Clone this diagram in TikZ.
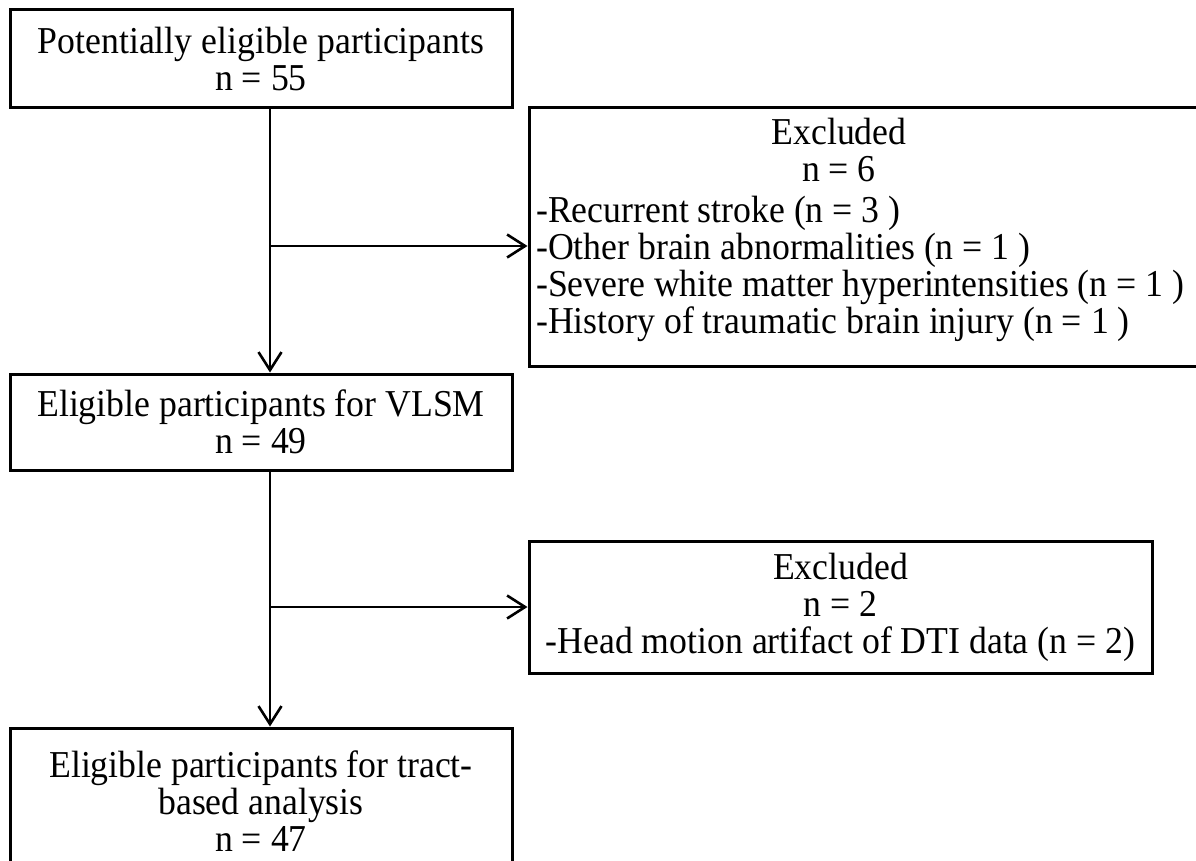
\documentclass[tikz,border=0pt]{standalone}
\usepackage{fontspec}
\setmainfont[FakeStretch=0.94]{Liberation Serif}
\usetikzlibrary{arrows.meta}
\begin{document}
\begin{tikzpicture}[x=1pt,y=-1pt,
  box/.style={draw, line width=3pt, inner sep=0pt},
  txt/.style={font=\fontsize{38}{37}\selectfont, align=center, inner sep=0pt},
  ln/.style={line width=2.6pt},
  arr/.style={line width=2.6pt, -{Straight Barb[length=18pt,width=23pt,line width=2.6pt]}}]
\clip (0,0) rectangle (1196,861);
\fill[white] (0,0) rectangle (1196,861);
% boxes
\node[box, txt, minimum width=502pt, minimum height=98pt] (b1) at (261,59)
  {Potentially eligible participants\\ n = 55};
\node[box, minimum width=676pt, minimum height=258pt] (ex1) at (867,237) {};
\node[txt] (ex1h) at (839,150) {Excluded\\ n = 6};
\node[txt, align=left, anchor=west] (ex1l) at (536,269)
  {-Recurrent stroke (n = 3 )\\ -Other brain abnormalities (n = 1 )\\ -Severe white matter hyperintensities (n = 1 )\\ -History of traumatic brain injury (n = 1 )};
\node[box, txt, minimum width=502pt, minimum height=96pt] (b2) at (261,422)
  {Eligible participants for VLSM\\ n = 49};
\node[box, txt, minimum width=623pt, minimum height=132pt] (ex2) at (840.5,607)
  {Excluded\\ n = 2\\ -Head motion artifact of DTI data (n = 2)};
\node[box, txt, minimum width=502pt, minimum height=146pt] (b3) at (261,801)
  {Eligible participants for tract-\\ based analysis\\ n = 47};
% connectors
\coordinate (j1) at (270,246);
\coordinate (j2) at (270,607);
\draw[ln] (b1.south -| j1) -- (j1);
\draw[arr] (j1) -- (b2.north -| j1);
\draw[arr] (j1) -- (ex1.west |- j1);
\draw[ln] (b2.south -| j2) -- (j2);
\draw[arr] (j2) -- (b3.north -| j2);
\draw[arr] (j2) -- (ex2.west |- j2);
\end{tikzpicture}
\end{document}
